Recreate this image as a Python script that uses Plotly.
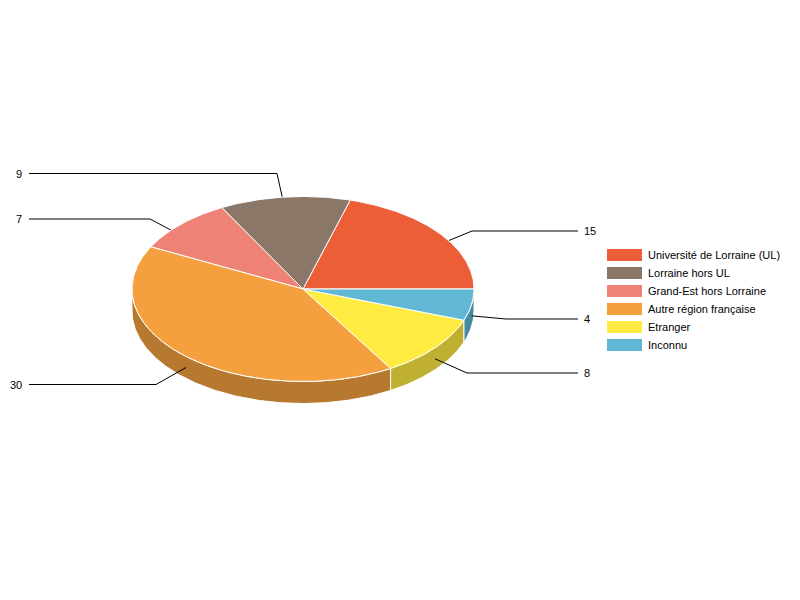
import numpy as np
import plotly.graph_objects as go

categories = ["Université de Lorraine (UL)", "Lorraine hors UL", "Grand-Est hors Lorraine",
              "Autre région française", "Etranger", "Inconnu"]
values = [15, 9, 7, 30, 8, 4]
top_colors = ["#EB5E37", "#8A7768", "#EE8277", "#F4A03F", "#FFEB41", "#60B8D5"]
side_colors = ["#B1472A", "#675A4F", "#B2625A", "#B7782F", "#BFB031", "#488A9F"]

# geometrie du disque, en pixels de la page
cx, cy = 303, 289
rx, ry = 171, 92.5
depth = 22

# coudes et extremites des traits de rappel
elbow_x = [472, 277, 150, 156, 467, 506]
elbow_y = [231, 173.5, 219, 384.5, 373, 319]
end_x = [578, 29, 29, 29, 578, 578]

# legende
legend_x, legend_y = 607, 255
row_h = 18


def rim(a0, a1, dy=0):
    t = np.radians(np.linspace(a0, a1, max(int(abs(a1 - a0)) * 2, 2)))
    return cx + rx * np.cos(t), cy + dy - ry * np.sin(t)


total = sum(values)
edges = np.cumsum([0] + values) / total * 360

fig = go.Figure()

# flanc visible: seulement la moitie avant
for i in range(len(values)):
    a0 = max(edges[i], 180)
    a1 = min(edges[i + 1], 360)
    if a1 <= a0:
        continue
    x0, y0 = rim(a0, a1)
    x1, y1 = rim(a1, a0, depth)
    fig.add_trace(go.Scatter(
        x=np.r_[x0, x1, x0[0]], y=np.r_[y0, y1, y0[0]],
        mode="lines", fill="toself", fillcolor=side_colors[i],
        line=dict(color="#FFFFFF", width=1), showlegend=False, hoverinfo="skip",
    ))

# traits de rappel: sur le flanc, mais sous le dessus du disque
for i, v in enumerate(values):
    mid = np.radians((edges[i] + edges[i + 1]) / 2)
    ax = cx + rx * np.cos(mid)
    ay = cy + depth / 2 - ry * np.sin(mid)
    fig.add_trace(go.Scatter(
        x=[ax, elbow_x[i], end_x[i]], y=[ay, elbow_y[i], elbow_y[i]],
        mode="lines", line=dict(color="#000000", width=1),
        showlegend=False, hoverinfo="skip",
    ))
    left = end_x[i] < cx
    fig.add_annotation(
        x=end_x[i] + (-5.5 if left else 4), y=elbow_y[i], text=str(v), showarrow=False,
        xanchor="right" if left else "left", yanchor="middle",
        font=dict(size=11, color="#000000"),
    )

# dessus
for i, name in enumerate(categories):
    xs, ys = rim(edges[i], edges[i + 1])
    fig.add_trace(go.Scatter(
        x=np.r_[cx, xs, cx], y=np.r_[cy, ys, cy],
        mode="lines", fill="toself", fillcolor=top_colors[i],
        line=dict(color="#FFFFFF", width=1), showlegend=False,
        name=name, hoverinfo="name",
    ))

# legende a pas de 18 px, plus serre que ce que permet la legende plotly
for i, name in enumerate(categories):
    row = legend_y + i * row_h
    fig.add_shape(
        type="rect", x0=legend_x, x1=legend_x + 35, y0=row - 6, y1=row + 6,
        fillcolor=top_colors[i], line_width=0,
    )
    fig.add_annotation(
        x=legend_x + 39, y=row, text=name, showarrow=False,
        xanchor="left", yanchor="middle", font=dict(size=11, color="#000000"),
    )

fig.update_xaxes(range=[0, 800], visible=False, fixedrange=True)
fig.update_yaxes(range=[600, 0], visible=False, fixedrange=True)
fig.update_layout(
    width=800, height=600,
    margin=dict(l=0, r=0, t=0, b=0),
    paper_bgcolor="#FFFFFF", plot_bgcolor="#FFFFFF",
    font=dict(family="Liberation Sans, Arial, sans-serif", size=11, color="#000000"),
    showlegend=False,
)

fig.write_html("out.html", config=dict(displayModeBar=False),
               post_script="document.body.style.margin='0';")
